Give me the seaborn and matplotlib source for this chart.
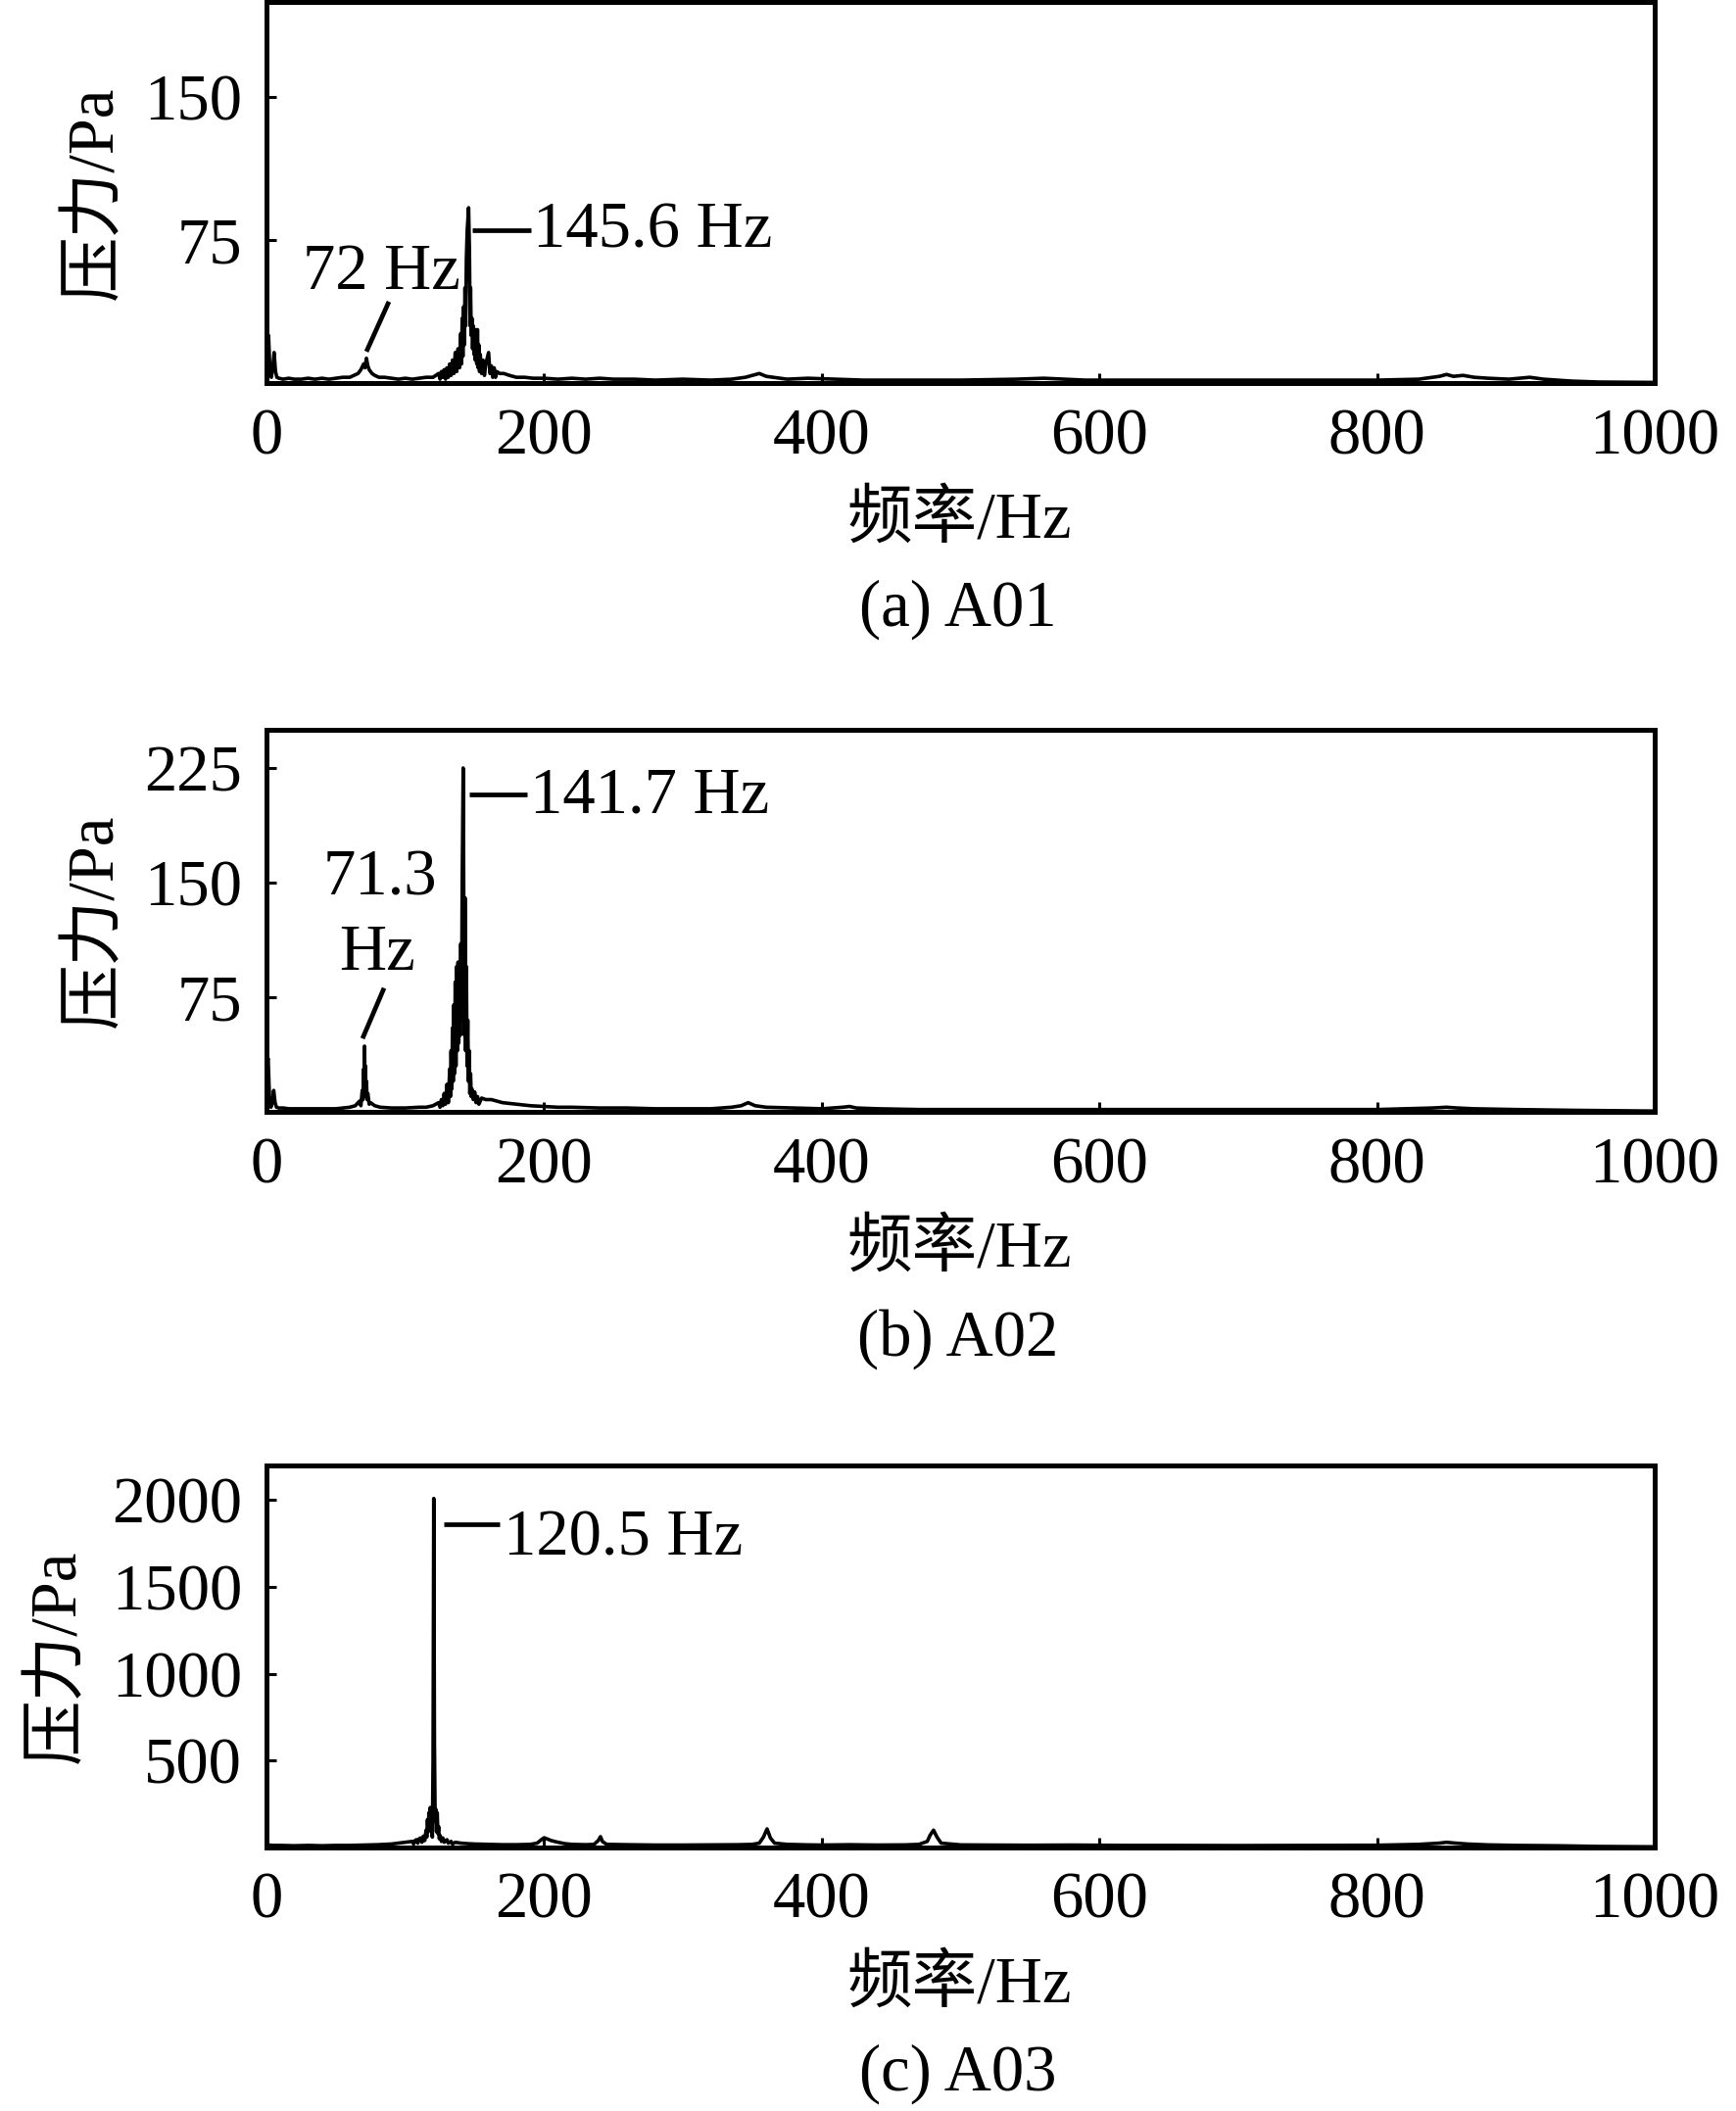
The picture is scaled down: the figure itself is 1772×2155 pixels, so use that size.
import matplotlib
matplotlib.use("Agg")
import matplotlib.pyplot as plt
import pandas as pd
import seaborn as sns

# ---------------- data ----------------
freq_a01 = [0, 1.5, 2.5, 3.5, 4.5, 5.5, 6.5, 7.5, 9, 12, 16, 20, 25, 30, 35, 40, 45, 50,
            55, 60, 63, 66, 68, 70, 71, 72, 73, 74, 76, 78, 81, 85, 90, 95, 100, 105,
            110, 115, 120,
            124, 125, 126, 127, 128, 129, 130, 131, 132, 133, 134, 135, 136, 137, 138,
            139, 140, 140.5, 141, 141.5, 142, 142.5, 143, 143.5, 144, 144.6, 145.1,
            145.6, 146.2, 146.7, 147, 147.5, 148, 148.5, 149, 149.5, 150, 150.5, 151,
            151.5, 152, 152.5, 153, 153.5, 154, 155, 156, 157, 158, 159, 160, 161,
            162, 163, 164, 165, 166, 168,
            171, 175, 180, 186, 192, 200, 210,
            220, 230, 240, 250, 265, 280, 300, 320, 335, 345, 350, 355, 360, 365,
            375, 390, 410, 430, 460, 500, 540, 560, 590, 620, 660, 700, 750, 800,
            830, 845, 850, 855, 862, 870, 880, 895, 910, 920, 940, 960, 1000]
pres_a01 = [18, 25, 6, 3, 8, 16, 6, 3, 2.5, 2, 2.5, 2, 2, 2.5, 2, 2.5, 2, 2.5,
            3, 3, 4, 5, 7, 10, 8, 13, 9, 7, 5, 4, 3, 3, 2.5, 2, 2.5, 2,
            2.5, 3, 3,
            5, 2, 6, 3, 7, 2, 8, 3, 10, 4, 12, 5, 16, 6, 18,
            8, 26, 10, 34, 14, 40, 20, 50, 30, 65, 80, 86,
            92, 70, 30, 50, 25, 34, 18, 30, 15, 28, 12, 28,
            10, 28, 8, 20, 6, 15, 5, 12, 4, 10, 13, 16, 5,
            9, 3, 8, 3, 6, 5,
            5, 4, 3, 3, 2.5, 2.5, 2,
            2.5, 2, 2.5, 2, 2, 1.5, 2, 1.5, 2, 3, 4, 5, 3.5, 3,
            2, 2.5, 2, 1.5, 1.5, 1.5, 2, 2.5, 1.5, 1.5, 1.5, 1.5, 1.5, 1.5,
            2, 3.5, 4.5, 3.5, 4, 3, 2.5, 2, 3, 2, 1, 0.5, 0.3]

freq_a02 = [0, 1.2, 2.2, 3.2, 4.2, 5.2, 6.2, 7.2, 9, 12, 16, 20, 25, 30, 40, 50, 55,
            60, 64, 67, 68, 69, 69.5, 70, 70.3, 70.6, 71, 71.3, 71.7, 72, 72.5, 73,
            74, 75, 78, 82, 90, 100, 110, 115, 120,
            124, 125, 126, 127, 128, 129, 130, 131, 132, 132.5, 133, 133.5, 134,
            134.5, 135, 135.5, 136, 136.5, 137, 137.5, 138, 138.5, 139, 139.5, 140,
            140.5, 141, 141.7, 142.3, 142.7, 143, 143.5, 144, 144.5, 145, 145.5, 146,
            146.5, 147, 147.5, 148, 149, 150, 151, 152, 153, 155,
            158, 162, 166, 170, 175, 180, 185,
            190, 200, 210, 220, 240, 260, 280, 300, 320, 335, 342, 347, 352, 360,
            380, 400, 415, 420, 425, 440, 470, 500, 550, 600, 650, 700, 750, 800,
            840, 850, 858, 870, 900, 940, 1000]
pres_a02 = [30, 35, 8, 3, 6, 14, 6, 3, 2.5, 2.5, 2, 2, 2, 2, 2, 2, 2.5,
            3, 4, 7, 4, 14, 8, 28, 15, 43, 20, 30, 10, 20, 8, 12,
            5, 6, 4, 3, 2.5, 2.5, 3, 3, 4,
            6, 3, 8, 4, 12, 5, 18, 6, 28, 10, 40, 15, 55,
            20, 70, 25, 85, 30, 95, 40, 98, 45, 95, 50, 110,
            60, 150, 225, 100, 50, 140, 40, 95, 30, 60, 20, 40,
            12, 25, 10, 15, 8, 13, 6, 10, 5, 9,
            8, 8, 7, 6, 5.5, 5, 4.5,
            4, 3.5, 3, 3, 2.5, 2.5, 2, 2, 2, 3, 4, 6, 4, 3,
            2.5, 2, 3, 3.5, 2.5, 2, 1.5, 1.5, 1.5, 1.5, 1.5, 1.5, 1.5, 1.5,
            2.5, 3, 2.5, 2, 1.5, 1, 0.5]

freq_a03 = [0, 5, 10, 20, 30, 40, 50, 60, 70, 80, 90, 95, 100,
            105, 106, 107, 108, 109, 110, 111, 112, 113, 114, 115, 115.5, 116, 116.5,
            117, 117.5, 118, 118.5, 119, 119.5, 120, 120.5, 121, 121.5, 122, 122.5,
            123, 123.5, 124, 124.5, 125, 126, 127, 128, 130, 131, 133, 134, 136,
            140, 145, 150, 160, 170, 180, 190, 195, 198, 200, 202, 205,
            210, 215, 220, 230, 236, 239, 240.6, 242, 245, 260, 280, 300, 320, 340,
            350, 355, 358, 360.6, 363, 366, 375, 390, 400, 420, 440, 460, 470, 476,
            478, 480.5, 483, 486, 500, 520, 550, 580, 600, 620, 650, 700, 750, 800,
            830, 845, 850, 855, 865, 880, 900, 930, 960, 1000]
pres_a03 = [15, 12, 12, 10, 12, 10, 12, 12, 14, 16, 20, 25, 30,
            35, 20, 40, 45, 25, 50, 55, 30, 65, 40, 100, 60, 160, 90,
            200, 120, 230, 180, 150, 60, 500, 2010, 600, 150, 220, 90,
            200, 80, 120, 50, 70, 35, 55, 30, 45, 25, 35, 20, 30,
            25, 22, 20, 18, 16, 16, 18, 25, 45, 56, 50, 40,
            30, 22, 18, 16, 18, 40, 62, 35, 18, 16, 14, 14, 15, 16,
            18, 25, 60, 107, 55, 25, 18, 15, 14, 16, 14, 15, 18, 35,
            70, 100, 60, 25, 15, 14, 13, 14, 13, 12, 12, 11, 12, 13,
            18, 25, 30, 26, 20, 15, 12, 10, 6, 4]

captions = ["(a) A01", "(b) A02", "(c) A03"]
y_limits = [(0, 200), (0, 250), (0, 2200)]
y_ticks = [[75, 150], [75, 150, 225], [500, 1000, 1500, 2000]]
x_ticks = [0, 200, 400, 600, 800, 1000]

# ---------------- style ----------------
sns.set_theme(style="ticks")
plt.rcParams['font.family'] = ['Liberation Serif', 'Noto Sans CJK SC', 'DejaVu Sans']
plt.rcParams['axes.unicode_minus'] = False
plt.rcParams['text.color'] = 'black'
plt.rcParams['axes.labelcolor'] = 'black'
plt.rcParams['xtick.color'] = 'black'
plt.rcParams['ytick.color'] = 'black'

FS = 48
fig = plt.figure(figsize=(17.72, 21.55), dpi=100)
W_PX, H_PX = 1772, 2155
left_px, right_px = 272, 1689
boxes_px = [(2, 391), (745, 1135), (1496, 1886)]  # (top, bottom) in pixels

datasets = [(freq_a01, pres_a01), (freq_a02, pres_a02), (freq_a03, pres_a03)]
axes = []
for (top, bot) in boxes_px:
    ax = fig.add_axes([left_px / W_PX, 1 - bot / H_PX,
                       (right_px - left_px) / W_PX, (bot - top) / H_PX])
    axes.append(ax)

for i, (ax, (f, p)) in enumerate(zip(axes, datasets)):
    df = pd.DataFrame({"freq": f, "pres": p})
    sns.lineplot(data=df, x="freq", y="pres", ax=ax, color="black",
                 linewidth=2.6, estimator=None)
    ax.set_xlim(0, 1000)
    ax.set_ylim(*y_limits[i])
    ax.set_xticks(x_ticks)
    ax.set_yticks(y_ticks[i])
    ax.tick_params(direction="in", length=7.2, width=2.2, labelsize=FS, pad=18,
                   colors="black", top=False, right=False)
    for sp in ax.spines.values():
        sp.set_visible(True)
        sp.set_linewidth(3.6)
        sp.set_color("black")
    ax.set_xlabel("频率/Hz", fontsize=FS, va="center", color="black")
    ax.xaxis.set_label_coords(0.499, -141 / 389)
    ax.set_ylabel("压力/Pa", fontsize=FS, va="center", color="black")
    ax.yaxis.set_label_coords(-0.123 if i < 2 else -0.150, 0.5)
    ax.text(0.498, -231 / 389, captions[i], transform=ax.transAxes,
            ha="center", va="center", fontsize=FS, color="black")

# ---------------- annotations ----------------
ann_lw = 3.4
a1, a2, a3 = axes
# (a)
a1.plot([88.2, 72], [42.7, 16.5], color="black", lw=ann_lw, solid_capstyle="butt")
a1.text(83, 49.4, "72 Hz", ha="center", va="baseline", fontsize=FS, color="black")
a1.plot([148, 190.5], [80, 80], color="black", lw=ann_lw, solid_capstyle="butt")
a1.text(192, 71, "145.6 Hz", ha="left", va="baseline", fontsize=FS, color="black")
# (b)
a2.plot([84.7, 69.2], [81, 48], color="black", lw=ann_lw, solid_capstyle="butt")
a2.text(82, 142, "71.3", ha="center", va="baseline", fontsize=FS, color="black")
a2.text(80, 93, "Hz", ha="center", va="baseline", fontsize=FS, color="black")
a2.plot([146, 188], [208, 208], color="black", lw=ann_lw, solid_capstyle="butt")
a2.text(189.5, 196, "141.7 Hz", ha="left", va="baseline", fontsize=FS, color="black")
# (c)
a3.plot([128, 168], [1861, 1861], color="black", lw=ann_lw, solid_capstyle="butt")
a3.text(170.5, 1686, "120.5 Hz", ha="left", va="baseline", fontsize=FS, color="black")

fig.savefig("out.png", dpi=100, facecolor="white")
